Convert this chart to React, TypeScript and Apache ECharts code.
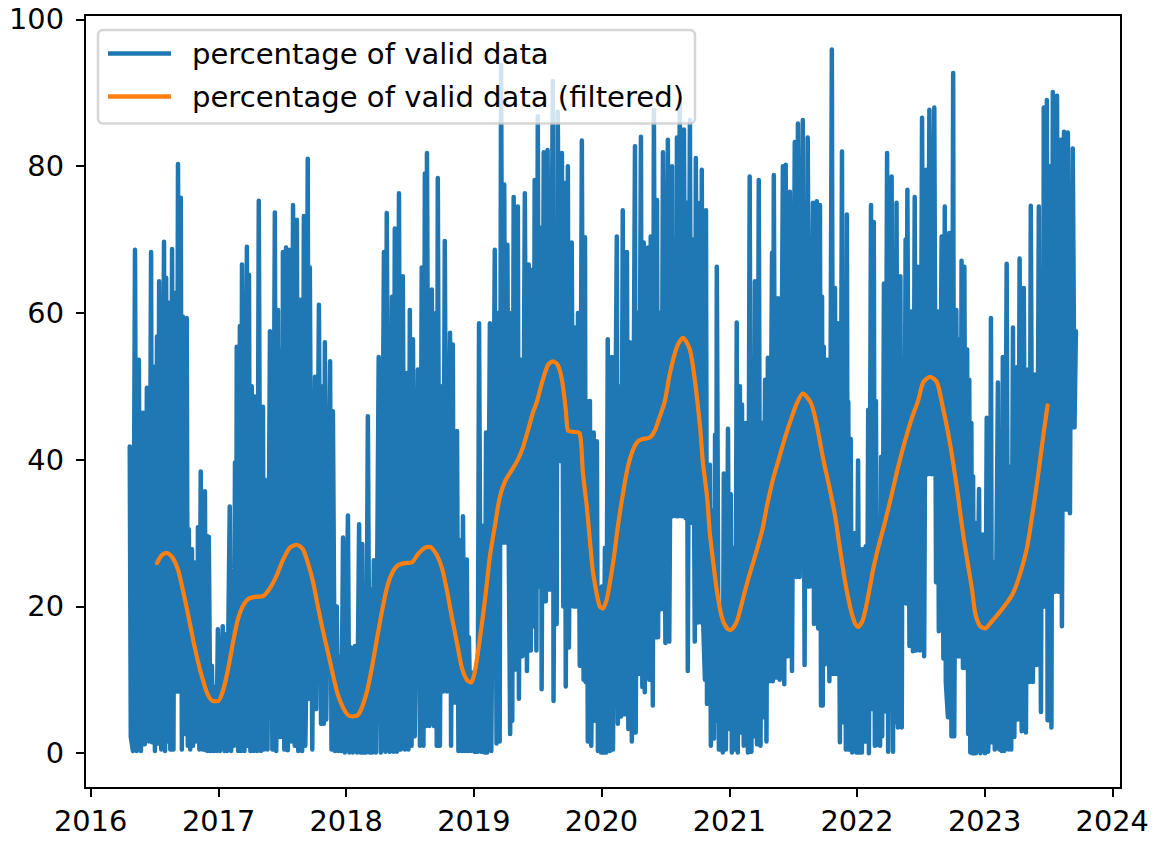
import React, { useEffect, useRef } from "react";
import * as echarts from "echarts";

// Values, as flat [days since 2016-01-01, percent] pairs.
const valid2016 = [112,41.8,115,2.2,121,0.3,127,68.6,132,0.3,138,53.6,144,0.3,150,46.4,155,1.2,161,49.8,167,1.6,173,68.3,176,1.5,178,52.7,184,0.3,190,56.8,193,1.3,196,64.3,202,0.5,210,69.7,213,0.3,216,64.8,220,1.6,224,61.4,228,0.5,233,68.7,237,0.5,241,62.7,246,8.4,250,80.3,254,8.4,258,75.7,261,0.5,264,59.5,270,2.6,275,59.3,278,1,281,30.5,285,0.5,290,27.8,293,1,296,26,301,1.6,304,18.7,306,1.6,307,30.8,311,0.5,315,38.4,321,0.5,327,35.7,330,0.4,333,29.6,335,0.3,338,29.5,343,0.3,347,11.9,351,0.3,355,9,360,0.3,364,16.9];
const valid2017 = [370,0.3,378,17.3,383,0.3,387,16.2,390,0.3,398,33.6,402,0.3,407,18,410,1,413,39.6,416,1.2,418,55.4,422,0.3,427,58.2,430,0.3,433,66.6,440,0.3,447,69,450,1,453,65.2,457,0.3,461,50,466,0.3,470,48.6,476,0.3,481,75.3,487,0.3,493,47.2,496,0.5,498,37.3,506,0.5,513,57.5,520,0.5,527,73.7,531,0.3,536,60.4,542,2.2,547,55,549,2.2,550,68.3,554,0.5,559,68.9,564,0.4,570,68.6,574,1.6,579,74.7,584,1,590,72.7,594,0.3,599,61.8,605,0.3,610,73.2,614,1,616,7.4,621,81,624,7.4,627,66.2,634,0.5,642,51.3,645,6,653,61.1,659,4,664,50,667,4,670,56,674,4.6,685,53.4,689,0.5,693,46.6,699,0.3,704,20,709,0.3,713,13.2,717,0.3,722,29.4,727,0.1];
const valid2018 = [736,32.4,740,0.1,745,14.4,750,0.1,756,14.6,762,0.1,768,31.2,772,0.1,777,28.5,780,0.1,782,17.6,788,0.1,793,45.9,798,0.1,802,22.3,806,0.1,810,26.3,816,0.1,824,54,830,0.1,839,68.3,843,0.2,847,73.6,855,0.2,862,62.2,866,0.2,870,71.5,876,0.2,882,76.3,887,0.5,893,65,899,0.5,905,51.8,909,0.5,913,60.4,918,1,922,56.4,927,2.3,936,52.3,942,1,947,66.2,952,1,956,79,959,3.7,962,81.8,969,3.7,976,63.2,982,3.7,988,60,990,1,993,78.4,999,1,1005,50,1008,8.4,1013,69.8,1019,8.4,1028,57.3,1031,1,1036,55.7,1039,6.9,1042,6.9,1048,43.9,1052,0.3,1056,29,1061,0.3,1065,32.3,1070,0.3,1076,26.4,1079,0.3,1082,15.8,1088,0.3,1094,11];
const valid2019 = [1098,0.2,1103,11,1107,0.2,1111,58.6,1117,0.2,1122,31,1127,0.1,1131,43.7,1134,0.1,1142,58.6,1146,0.3,1156,68.6,1161,1.3,1166,60,1170,1.6,1174,93.8,1179,28.7,1183,77.5,1187,28.7,1192,69.3,1196,28,1200,2.6,1203,60,1206,4.4,1210,75.8,1215,11.4,1222,74.5,1225,7.4,1230,53.6,1235,13.2,1242,76.3,1248,11.2,1253,66.6,1259,14,1265,65.9,1267,17.3,1270,78.1,1275,14,1279,86.8,1283,22.7,1288,71.6,1290,8.7,1296,81.9,1302,20.7,1307,82.2,1313,22.3,1322,91.6,1324,7.1,1330,65,1333,17.6,1336,87.4,1343,39.8,1348,81.8,1352,20,1356,77.7,1359,9.1,1365,80,1368,14.4,1376,69.6,1381,20,1385,58,1390,20,1394,60,1399,11.9,1405,83.5,1410,10,1414,70.3,1416,9.7,1419,48,1422,1.6,1428,48,1432,1,1439,43.7,1444,4.4,1448,42.5,1451,0.3,1457,22,1460,0.1];
const valid2020 = [1462,22.7,1466,0.1,1471,28,1475,0.1,1479,56.4,1485,0.3,1491,54,1494,0.5,1505,70.4,1508,4,1514,50,1517,5,1522,74,1528,5.3,1534,68.3,1538,3.3,1542,56,1548,1.6,1557,82.7,1559,2.8,1565,60,1567,10.8,1574,84,1578,9,1582,69.6,1585,8.3,1594,68.9,1598,10,1602,70.4,1608,6.5,1611,87.7,1617,15.8,1620,75.4,1623,15.8,1628,60,1632,19.6,1637,81.9,1644,15,1651,83.6,1655,15.2,1663,80,1665,32.3,1671,70,1675,32.3,1677,83.9,1681,32.3,1685,89,1691,32.3,1697,85,1702,32,1705,75,1708,11.2,1714,86.3,1718,31.4,1722,70,1728,15.2,1731,81.1,1737,17.8,1743,75,1747,17.8,1748,79.5,1752,17.8,1757,10,1760,74,1763,6.7,1767,35,1771,39.3,1774,1,1778,33,1783,2,1786,43.4,1789,4.4,1791,66.3,1797,0.5,1803,20,1808,0.1,1811,38.1,1817,0.5,1823,44.2,1827,3.3];
const valid2021 = [1831,35.3,1834,0.1,1840,28,1844,0.5,1848,58.7,1851,0.1,1857,50,1860,2.8,1863,47.5,1868,1,1874,45,1880,0.1,1885,78.6,1890,0.2,1894,50,1897,2.3,1900,64.3,1906,1.2,1911,78.1,1916,1,1920,45,1922,4.9,1929,50.9,1933,1.6,1937,53.9,1941,9.8,1949,68.2,1951,9.8,1954,78.8,1960,10.3,1966,62,1971,10,1980,80,1984,9.4,1988,80.2,1994,13.2,2000,76.5,2006,11.2,2014,83.3,2019,24,2023,85.8,2028,24,2037,86.3,2042,12,2046,60,2049,22.7,2051,83.9,2057,22.7,2066,75,2069,17.6,2077,75.2,2081,17,2086,74.7,2089,6.5,2092,62.2,2094,6.5,2097,55.4,2100,12.1,2106,53.6,2113,9.8,2120,95.9,2124,10.8,2129,63.4,2133,10.8,2137,58.6,2143,1.5,2149,82,2152,4.2,2157,60,2160,0.5,2163,73.4,2166,0.5,2167,47.9,2170,0.5,2174,42.8,2178,0.1,2186,30,2190,0.1];
const valid2022 = [2195,39.9,2199,0.1,2202,27.8,2206,0.1,2209,27.8,2213,1.6,2217,28.2,2220,1.6,2224,46.8,2226,0,2232,74.7,2236,6,2240,72.4,2243,1,2246,48,2250,1.1,2255,32,2258,1,2261,40.4,2264,2.3,2269,64,2272,5.7,2278,81.8,2281,0.2,2291,78.6,2295,0.2,2297,60,2299,4.2,2305,75,2309,3.5,2316,65,2320,3.5,2322,42,2327,21,2331,70,2333,20.4,2336,76.8,2342,14.6,2348,60.2,2352,13.9,2357,75.8,2361,14,2366,66.3,2372,14,2378,86.6,2384,13.2,2390,79.5,2394,38,2399,87.7,2405,38,2413,88,2418,23.3,2423,60.2,2426,16.6,2434,70.4,2439,12.9,2443,74.5,2446,9.7,2452,4.9,2456,70.9,2462,2.3,2467,92.7,2470,2.3,2476,60.4,2481,13.2,2485,56.4,2488,13.2,2491,67.1,2495,11.6,2499,66.3,2503,11.6,2507,55,2510,2.6,2513,50.9,2516,0.1,2519,45,2522,0,2524,37.7,2527,0,2529,31.4,2532,0,2541,36,2545,0,2552,29.8];
const valid2023 = [2558,0,2563,45.7,2567,0.2,2572,6.3,2575,59.3,2578,1.5,2584,26,2586,0.5,2595,50.5,2599,0.5,2603,40,2606,0.3,2609,54,2613,0.3,2620,66.7,2625,0.5,2629,39,2633,0.5,2638,58,2642,2.2,2649,52.6,2652,4.6,2657,67.4,2663,3,2669,63.4,2675,2.8,2681,52.3,2685,9.7,2689,74.6,2695,9.7,2701,51.6,2706,12,2712,74.5,2718,5.6,2722,60,2725,20,2726,88,2731,20,2735,89,2737,4.5,2744,80,2748,3.5,2752,90.1,2758,22,2764,89.6,2768,22,2775,83.6,2778,17.3,2784,84.7,2787,33.2,2789,70,2792,33.2,2795,84.6,2801,32.7,2804,66,2807,44.4,2809,82.4,2814,44.4,2818,57.5];

const filteredDays = [190,204,218,235,250,264,278,293,307,321,335,350,364,378,393,407,421,435,450,470,493,513,533,550,570,590,607,621,636,650,664,679,693,707,722,736,750,765,779,793,807,822,836,850,865,879,899,919,936,956,970,990,1005,1019,1033,1048,1062,1076,1088,1099,1113,1128,1142,1156,1170,1185,1205,1222,1236,1251,1265,1276,1291,1308,1322,1336,1348,1359,1365,1379,1399,1408,1419,1428,1436,1448,1456,1465,1476,1485,1497,1508,1522,1536,1551,1565,1579,1599,1614,1628,1642,1657,1677,1694,1714,1728,1743,1751,1763,1771,1780,1791,1805,1820,1831,1848,1863,1880,1900,1920,1934,1951,1966,1986,2006,2020,2037,2051,2063,2077,2094,2114,2129,2143,2157,2172,2186,2195,2209,2224,2238,2252,2272,2292,2309,2329,2349,2366,2381,2401,2421,2438,2452,2467,2481,2495,2510,2521,2530,2544,2559,2573,2593,2616,2636,2650,2665,2679,2694,2708,2722,2737];
const filteredValues = [25.9,27,27.3,26.6,25,22.2,19.1,15.5,12.5,10,8,7.1,7.1,8.4,11.4,15,18.2,20,21,21.3,21.4,22.5,24.3,26.3,28,28.4,27.8,26,23.4,20,16.8,13.7,10.7,8,6.2,5.2,5,5.2,6.6,8.9,12.3,16.4,20,23,24.8,25.6,25.9,26,27.1,28,28.1,27,25.2,22.2,18.6,15,11.6,10,9.6,11.1,15.5,20.9,26.8,30.9,34.8,37,38.6,40,41.6,44,46.4,47.8,50.5,52.9,53.4,52.9,50.9,46.8,44,43.8,43.6,38.2,33.7,29,25,21.6,20,19.7,20.9,23.2,26.8,30.9,35.2,38.9,41.3,42.5,42.8,43,44,45.9,47.9,51.8,55.4,56.6,55,50.9,44.5,39.7,35,30,26.3,22.2,18.6,17,16.8,17.9,20.5,23.6,26.8,30.2,33.6,37.2,39.7,43,45.9,47.7,49,48.4,47.4,44.7,40.4,36,32.4,27.9,23.6,20,17.7,17.2,18.2,21.4,25,27.9,31.5,35.4,38.9,42.5,45.7,47.9,50.5,51.3,50.5,47,43.8,39.6,35,30,25.5,22.3,19.1,17.3,17,17.7,18.8,20.2,21.6,23.2,25.5,28.2,32.7,37.2,42.3,47.4];

const yearTicks = [2016, 2017, 2018, 2019, 2020, 2021, 2022, 2023, 2024];
const yearStartDays = [0, 366, 731, 1096, 1461, 1827, 2192, 2557, 2922];
const percentTicks = [0, 20, 40, 60, 80, 100];
const names = ["percentage of valid data", "percentage of valid data (filtered)"];

const FONT = "DejaVu Sans";

export default function App() {
  const ref = useRef<HTMLDivElement>(null);
  useEffect(() => {
    const chart = echarts.init(ref.current!, undefined, { renderer: "svg" });
    const flat = [...valid2016, ...valid2017, ...valid2018, ...valid2019, ...valid2020, ...valid2021, ...valid2022, ...valid2023];
    const raw: [number, number][] = [];
    for (let i = 0; i < flat.length; i += 2) raw.push([flat[i], flat[i + 1]]);
    const filtered = filteredDays.map((d, i) => [d, filteredValues[i]]);
    const tickStyle = { color: "#000", width: 2 };
    chart.setOption({
      animation: false,
      backgroundColor: "#fff",
      textStyle: { fontFamily: FONT },
      grid: { left: 85, right: 36, top: 15, bottom: 53, show: true, borderColor: "#000", borderWidth: 2, backgroundColor: "transparent" },
      legend: {
        left: 98, top: 30, orient: "vertical", icon: "rect", itemWidth: 63, itemHeight: 4.5, itemGap: 14,
        padding: [9, 11, 12.5, 10], backgroundColor: "rgba(255,255,255,0.8)", borderColor: "rgba(204,204,204,0.8)",
        borderWidth: 2.5, borderRadius: 5,
        textStyle: { fontFamily: FONT, fontSize: 29.1, color: "#000", padding: [0, 0, 0, 16] },
        data: names,
      },
      xAxis: {
        type: "value", min: -16, max: 2947,
        splitLine: { show: false },
        axisLine: { show: true, onZero: false, lineStyle: tickStyle },
        axisTick: { show: true, length: 9, lineStyle: tickStyle, customValues: yearStartDays },
        axisLabel: {
          customValues: yearStartDays, color: "#000", fontFamily: FONT, fontSize: 28.8, margin: 18,
          formatter: (v: number) => String(yearTicks[yearStartDays.indexOf(v)]),
        },
      },
      yAxis: {
        type: "value", min: -4.75, max: 100.6,
        splitLine: { show: false },
        axisLine: { show: true, onZero: false, lineStyle: tickStyle },
        axisTick: { show: true, length: 9, lineStyle: tickStyle, customValues: percentTicks },
        axisLabel: { customValues: percentTicks, color: "#000", fontFamily: FONT, fontSize: 28.8, margin: 21 },
      },
      series: [
        { name: names[0], type: "line", data: raw, showSymbol: false, symbol: "none",
          lineStyle: { color: "#1f77b4", width: 4.5, join: "round", cap: "round" }, itemStyle: { color: "#1f77b4" }, z: 2 },
        { name: names[1], type: "line", data: filtered, showSymbol: false, symbol: "none", smooth: 0.25,
          lineStyle: { color: "#ff7f0e", width: 4.2, join: "round", cap: "round" }, itemStyle: { color: "#ff7f0e" }, z: 3 },
      ],
    });
    return () => chart.dispose();
  }, []);
  return <div ref={ref} style={{ position: "absolute", left: 0, top: 0, width: 1157, height: 841 }} />;
}
